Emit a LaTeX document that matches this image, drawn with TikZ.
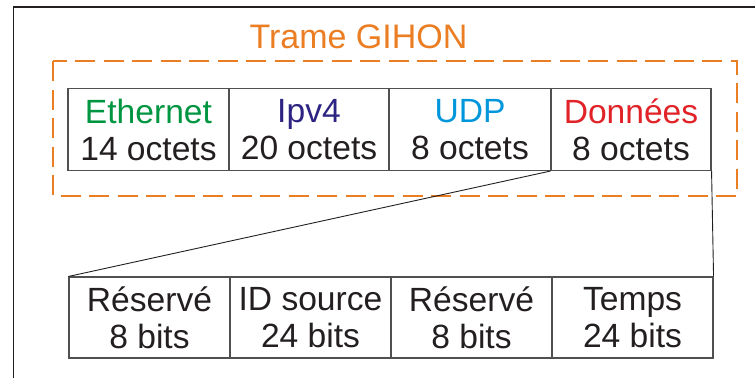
\documentclass[tikz,border=0pt]{standalone}
\usepackage{fontspec}
\setmainfont{Liberation Sans}
\definecolor{framorange}{RGB}{235,125,35}
\definecolor{ethgreen}{RGB}{0,150,65}
\definecolor{ipblue}{RGB}{45,35,130}
\definecolor{udpblue}{RGB}{0,150,220}
\definecolor{datared}{RGB}{225,35,40}
\definecolor{txtblack}{RGB}{35,31,32}
\definecolor{boxgray}{RGB}{80,80,80}
\tikzset{
  cell/.style={draw=boxgray, line width=1.1pt, minimum width=161pt, minimum height=82pt,
    inner sep=0pt, align=center, text=txtblack, font=\fontsize{33.6}{37}\selectfont},
  dashframe/.style={draw=framorange, line width=2pt, dash pattern=on 20pt off 8.5pt},
  link/.style={draw=txtblack, line width=0.9pt}
}
\begin{document}
\begin{tikzpicture}[x=1pt,y=-1pt]
\useasboundingbox (0,0) rectangle (755,378);
\draw[txtblack, line width=1.2pt] (13.5,378) -- (13.5,7) -- (755,7);
\node[anchor=base, text=framorange, font=\fontsize{34}{37}\selectfont, inner sep=0pt] (title) at (358.5,48.5) {Trame GIHON};
\draw[dashframe] (53,61) rectangle (737,196);
% top row
\node[cell] (eth) at (148.5,129.5) {\textcolor{ethgreen}{Ethernet}\\14 octets};
\node[cell, minimum width=160pt] (ip) at (309,129.5) {\textcolor{ipblue}{Ipv4}\\20 octets};
\node[cell, minimum width=162pt] (udp) at (470,129.5) {\textcolor{udpblue}{UDP}\\8 octets};
\node[cell, minimum width=160pt] (data) at (631,129.5) {\textcolor{datared}{Données}\\8 octets};
% bottom row
\node[cell, minimum height=81pt] (res1) at (149.5,317.5) {Réservé\\8 bits};
\node[cell, minimum height=81pt] (ids) at (310.5,317.5) {ID source\\24 bits};
\node[cell, minimum height=81pt] (res2) at (471.5,317.5) {Réservé\\8 bits};
\node[cell, minimum height=81pt] (tps) at (632.5,317.5) {Temps\\24 bits};
% zoom lines
\draw[link] (data.south west) -- (res1.north west);
\draw[link] (data.south east) -- (tps.north east);
\end{tikzpicture}
\end{document}
